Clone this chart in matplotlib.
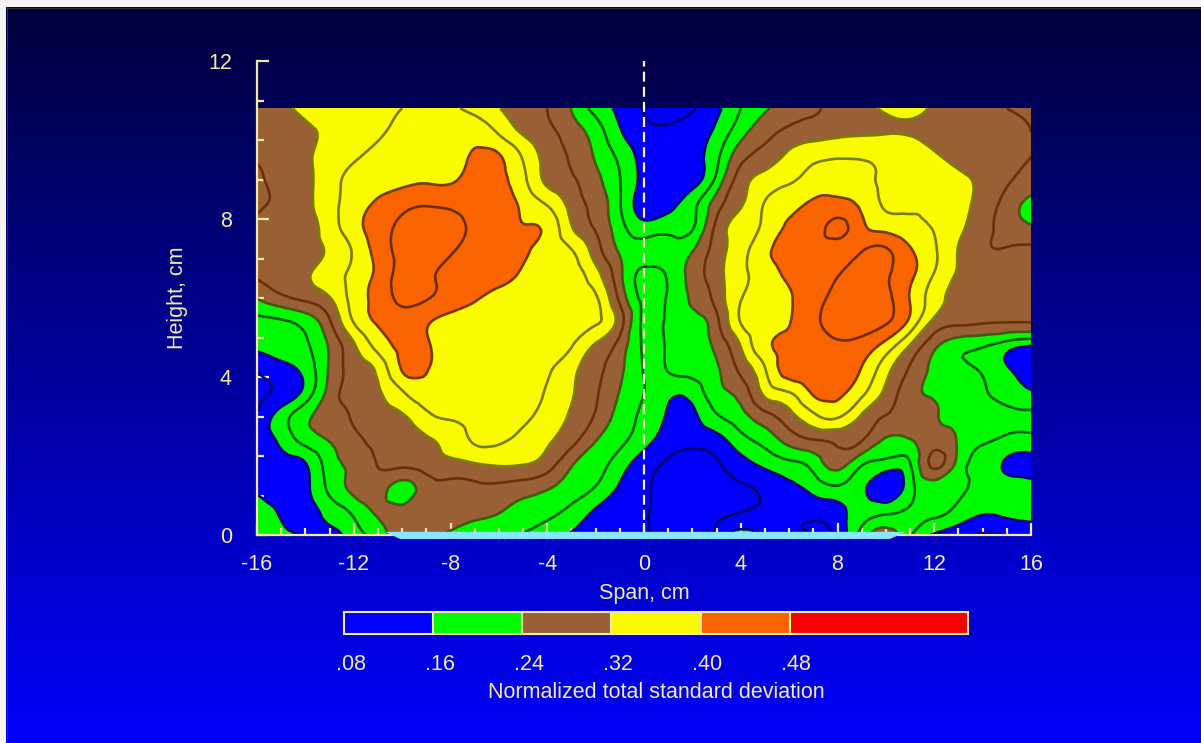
import numpy as np
import matplotlib
matplotlib.use("Agg")
import matplotlib.pyplot as plt
import matplotlib.tri as mtri
from matplotlib.patches import Rectangle, Polygon

plt.rcParams['font.family'] = ['Liberation Sans', 'DejaVu Sans']
plt.rcParams['axes.unicode_minus'] = False

# measurement grid (cm)
span_cm = list(range(-16, 17))
height_cm = [0.0, 0.6, 1.2, 1.8, 2.4, 3.0, 3.6, 4.2, 4.8, 5.4,
             6.0, 6.6, 7.2, 7.8, 8.4, 9.0, 9.6, 10.2, 10.8]

# normalized total standard deviation, one row per height, span -16..16
sd_h000 = [0.175, 0.17, 0.158, 0.15, 0.18, 0.22, 0.26, 0.255, 0.23, 0.215, 0.205, 0.198, 0.18, 0.155, 0.14, 0.13,
           0.123, 0.115, 0.115, 0.125, 0.185, 0.145, 0.125, 0.118, 0.13, 0.215, 0.265, 0.205, 0.155, 0.13, 0.115, 0.12, 0.13]
sd_h006 = [0.17, 0.155, 0.145, 0.175, 0.21, 0.245, 0.25, 0.26, 0.26, 0.25, 0.242, 0.225, 0.21, 0.19, 0.155, 0.135,
           0.123, 0.11, 0.105, 0.11, 0.119, 0.125, 0.125, 0.13, 0.145, 0.18, 0.19, 0.205, 0.205, 0.19, 0.165, 0.17, 0.175]
sd_h012 = [0.155, 0.14, 0.15, 0.21, 0.25, 0.26, 0.225, 0.26, 0.265, 0.27, 0.27, 0.26, 0.245, 0.22, 0.198, 0.155,
           0.125, 0.11, 0.10, 0.105, 0.115, 0.13, 0.15, 0.175, 0.195, 0.17, 0.13, 0.185, 0.215, 0.205, 0.185, 0.175, 0.17]
sd_h018 = [0.14, 0.145, 0.158, 0.22, 0.25, 0.282, 0.29, 0.30, 0.31, 0.318, 0.325, 0.322, 0.30, 0.245, 0.215, 0.18,
           0.14, 0.115, 0.105, 0.115, 0.145, 0.17, 0.19, 0.215, 0.255, 0.205, 0.185, 0.198, 0.29, 0.225, 0.185, 0.155, 0.15]
sd_h024 = [0.14, 0.17, 0.215, 0.242, 0.27, 0.29, 0.30, 0.315, 0.335, 0.365, 0.365, 0.35, 0.325, 0.295, 0.242, 0.21,
           0.175, 0.14, 0.13, 0.145, 0.185, 0.215, 0.255, 0.278, 0.29, 0.282, 0.235, 0.238, 0.26, 0.235, 0.205, 0.19, 0.185]
sd_h030 = [0.125, 0.18, 0.23, 0.26, 0.285, 0.305, 0.315, 0.35, 0.365, 0.37, 0.37, 0.365, 0.345, 0.315, 0.275, 0.225,
           0.19, 0.155, 0.15, 0.195, 0.225, 0.265, 0.305, 0.35, 0.365, 0.315, 0.278, 0.265, 0.245, 0.225, 0.215, 0.21, 0.21]
sd_h036 = [0.11, 0.13, 0.175, 0.255, 0.295, 0.315, 0.355, 0.385, 0.38, 0.375, 0.37, 0.365, 0.358, 0.325, 0.285, 0.238,
           0.20, 0.17, 0.175, 0.225, 0.255, 0.33, 0.358, 0.405, 0.41, 0.37, 0.31, 0.255, 0.235, 0.225, 0.205, 0.185, 0.165]
sd_h042 = [0.125, 0.145, 0.175, 0.245, 0.295, 0.33, 0.403, 0.404, 0.375, 0.37, 0.365, 0.365, 0.362, 0.335, 0.29, 0.25,
           0.198, 0.202, 0.215, 0.235, 0.29, 0.358, 0.42, 0.43, 0.425, 0.398, 0.335, 0.275, 0.23, 0.21, 0.195, 0.165, 0.13]
sd_h048 = [0.17, 0.18, 0.195, 0.245, 0.315, 0.375, 0.41, 0.405, 0.38, 0.37, 0.365, 0.365, 0.365, 0.362, 0.315, 0.265,
           0.195, 0.205, 0.22, 0.25, 0.322, 0.39, 0.41, 0.425, 0.435, 0.425, 0.385, 0.318, 0.25, 0.215, 0.205, 0.18, 0.162]
sd_h054 = [0.19, 0.195, 0.215, 0.275, 0.362, 0.405, 0.42, 0.405, 0.385, 0.375, 0.37, 0.37, 0.37, 0.37, 0.365, 0.30,
           0.19, 0.21, 0.228, 0.27, 0.362, 0.38, 0.398, 0.43, 0.455, 0.46, 0.445, 0.39, 0.31, 0.29, 0.285, 0.282, 0.282]
sd_h060 = [0.242, 0.27, 0.29, 0.318, 0.375, 0.415, 0.45, 0.443, 0.425, 0.405, 0.39, 0.385, 0.38, 0.375, 0.365, 0.27,
           0.19, 0.205, 0.245, 0.295, 0.358, 0.375, 0.395, 0.425, 0.45, 0.46, 0.45, 0.398, 0.34, 0.305, 0.295, 0.29, 0.29]
sd_h066 = [0.285, 0.30, 0.315, 0.34, 0.37, 0.41, 0.455, 0.45, 0.43, 0.42, 0.41, 0.395, 0.38, 0.375, 0.335, 0.25,
           0.19, 0.205, 0.255, 0.305, 0.35, 0.38, 0.41, 0.425, 0.438, 0.455, 0.445, 0.41, 0.358, 0.315, 0.295, 0.29, 0.29]
sd_h072 = [0.29, 0.30, 0.31, 0.325, 0.365, 0.415, 0.455, 0.47, 0.445, 0.43, 0.42, 0.405, 0.385, 0.362, 0.30, 0.235,
           0.215, 0.22, 0.238, 0.30, 0.345, 0.39, 0.415, 0.425, 0.425, 0.438, 0.445, 0.405, 0.365, 0.318, 0.285, 0.283, 0.288]
sd_h078 = [0.29, 0.30, 0.305, 0.34, 0.385, 0.42, 0.45, 0.465, 0.455, 0.435, 0.425, 0.402, 0.39, 0.322, 0.275, 0.215,
           0.175, 0.185, 0.195, 0.29, 0.335, 0.37, 0.405, 0.42, 0.45, 0.41, 0.385, 0.37, 0.358, 0.33, 0.295, 0.265, 0.245]
sd_h084 = [0.27, 0.29, 0.31, 0.345, 0.38, 0.405, 0.425, 0.435, 0.43, 0.425, 0.42, 0.39, 0.355, 0.305, 0.265, 0.203,
           0.14, 0.145, 0.185, 0.26, 0.315, 0.362, 0.385, 0.405, 0.41, 0.39, 0.355, 0.355, 0.355, 0.335, 0.305, 0.265, 0.225]
sd_h090 = [0.27, 0.295, 0.31, 0.345, 0.37, 0.385, 0.39, 0.395, 0.395, 0.415, 0.41, 0.37, 0.31, 0.285, 0.25, 0.201,
           0.15, 0.135, 0.145, 0.21, 0.30, 0.335, 0.355, 0.375, 0.385, 0.37, 0.355, 0.35, 0.345, 0.33, 0.31, 0.285, 0.27]
sd_h096 = [0.285, 0.30, 0.315, 0.335, 0.355, 0.37, 0.38, 0.385, 0.39, 0.405, 0.403, 0.355, 0.305, 0.275, 0.235, 0.19,
           0.145, 0.13, 0.145, 0.19, 0.265, 0.295, 0.33, 0.35, 0.355, 0.355, 0.35, 0.34, 0.325, 0.305, 0.29, 0.285, 0.28]
sd_h102 = [0.29, 0.30, 0.315, 0.325, 0.34, 0.355, 0.37, 0.38, 0.385, 0.385, 0.355, 0.315, 0.29, 0.26, 0.22, 0.165,
           0.13, 0.125, 0.135, 0.17, 0.225, 0.265, 0.29, 0.30, 0.31, 0.315, 0.318, 0.318, 0.31, 0.30, 0.295, 0.29, 0.28]
sd_h108 = [0.29, 0.31, 0.33, 0.34, 0.35, 0.355, 0.36, 0.37, 0.365, 0.35, 0.322, 0.30, 0.28, 0.238, 0.185, 0.15,
           0.118, 0.108, 0.117, 0.15, 0.20, 0.235, 0.26, 0.275, 0.295, 0.31, 0.325, 0.33, 0.315, 0.30, 0.29, 0.28, 0.27]

band_edges = [0.08, 0.16, 0.24, 0.32, 0.40, 0.48, 0.64]
band_colors = ['#0000fa', '#00fa00', '#986034', '#fafa00', '#fa6400', '#fa0000']
band_labels = ['.08', '.16', '.24', '.32', '.40', '.48']
line_levels = [0.12, 0.16, 0.20, 0.24, 0.28, 0.32, 0.36, 0.40, 0.44]
line_colors = ['#00006a', '#000078', '#005c00', '#4a5510', '#6c3008',
               '#7c7c08', '#7c7c08', '#7a3806', '#6c2c04']

# model outline drawn under the span axis
model_x = [-10.7, 10.8, 10.17, -10.09]
model_y = [0.08, 0.08, -0.1, -0.1]

pale = '#f2eaa6'
fs = 15.5

fig = plt.figure(figsize=(12.01, 7.43), dpi=100)

# background: grey frame with a dark-to-bright blue gradient
bg = fig.add_axes([0, 0, 1, 1])
bg.set_xlim(0, 1201)
bg.set_ylim(743, 0)
bg.axis('off')
grad = np.linspace(0.24, 0.98, 256).reshape(-1, 1)
rgb = np.zeros((256, 1, 3))
rgb[:, :, 2] = grad
bg.imshow(rgb, extent=(6, 1201, 743, 7), aspect='auto', interpolation='bilinear')
bg.add_patch(Rectangle((0, 0), 1201, 7, color='#f4f4f4', lw=0))
bg.add_patch(Rectangle((0, 0), 6, 743, color='#f4f4f4', lw=0))
bg.plot([6, 1201], [7.5, 7.5], color='#303030', lw=0.8)
bg.plot([6.5, 6.5], [7, 743], color='#303030', lw=0.8)

ax = fig.add_axes([257 / 1201, 208 / 743, 774 / 1201, 474 / 743])
ax.set_facecolor('none')

xg, yg = np.meshgrid(span_cm, height_cm)
zg = np.array([sd_h000, sd_h006, sd_h012, sd_h018, sd_h024, sd_h030, sd_h036,
               sd_h042, sd_h048, sd_h054, sd_h060, sd_h066, sd_h072, sd_h078,
               sd_h084, sd_h090, sd_h096, sd_h102, sd_h108])
nx = len(span_cm)
ny = len(height_cm)
tris = []
for j in range(ny - 1):
    for i in range(nx - 1):
        p = j * nx + i
        tris.append([p, p + 1, p + nx + 1])
        tris.append([p, p + nx + 1, p + nx])
tri = mtri.Triangulation(xg.ravel(), yg.ravel(), np.array(tris))
refiner = mtri.UniformTriRefiner(tri)
tri_f, z_f = refiner.refine_field(zg.ravel(), subdiv=3)

ax.tricontourf(tri_f, z_f, levels=[0.0] + band_edges[1:-1] + [1.0], colors=band_colors)
ax.tricontour(tri_f, z_f, levels=line_levels, colors=line_colors, linewidths=1.9)

ax.set_xlim(-16, 16)
ax.set_ylim(0, 12)
for side in ['top', 'right']:
    ax.spines[side].set_visible(False)
for side in ['left', 'bottom']:
    ax.spines[side].set_color(pale)
    ax.spines[side].set_linewidth(1.6)
    ax.spines[side].set_zorder(4)

ax.set_xticks(range(-16, 17, 4))
ax.set_xticks(range(-16, 17), minor=True)
ax.set_yticks([0, 4, 8, 12])
ax.set_yticks(range(0, 13), minor=True)
ax.tick_params(which='major', direction='in', length=8.5, width=1.6, color=pale,
               labelcolor=pale, labelsize=fs)
ax.tick_params(which='minor', direction='in', length=5, width=1.6, color=pale)
ax.tick_params(axis='x', which='major', pad=14)
ax.tick_params(axis='y', which='major', pad=18)

# the minor tick at 9 cm is drawn dark
minor_locs = list(ax.xaxis.get_minorticklocs())
minor_ticks = ax.xaxis.get_minor_ticks(len(minor_locs))
for loc, tk in zip(minor_locs, minor_ticks):
    if abs(loc - 9) < 1e-6:
        tk.tick1line.set_color('black')

ax.set_xlabel('Span, cm', color=pale, fontsize=fs)
ax.xaxis.set_label_coords(0.5, -58 / 474)
ax.xaxis.label.set_va('center')
ax.set_ylabel('Height, cm', color=pale, fontsize=fs)
ax.yaxis.set_label_coords(-79 / 774, 0.5)
ax.yaxis.label.set_va('center')

ax.axvline(0, 0, 1, color='#fbf5c8', lw=1.6, dashes=(4.5, 2.3), zorder=4)
ax.add_patch(Polygon(list(zip(model_x, model_y)), closed=True, fc='#88e8ff',
                     ec='none', clip_on=False, zorder=5))

# colour key
cb = fig.add_axes([344 / 1201, 109 / 743, 624 / 1201, 22 / 743])
cb.set_xlim(band_edges[0], band_edges[-1])
cb.set_ylim(0, 1)
cb.axis('off')
for lo, hi, c in zip(band_edges[:-1], band_edges[1:], band_colors):
    cb.add_patch(Rectangle((lo, 0), hi - lo, 1, fc=c, ec=pale, lw=1.5, clip_on=False))
for lev, lab in zip(band_edges[:-1], band_labels):
    cb.text(lev + 0.006, -1.4, lab, color=pale, fontsize=fs, ha='center', va='center')

fig.text(656 / 1201, 1 - 692 / 743, 'Normalized total standard deviation',
         color=pale, fontsize=fs, ha='center', va='center')

fig.savefig('out.png', dpi=100)
